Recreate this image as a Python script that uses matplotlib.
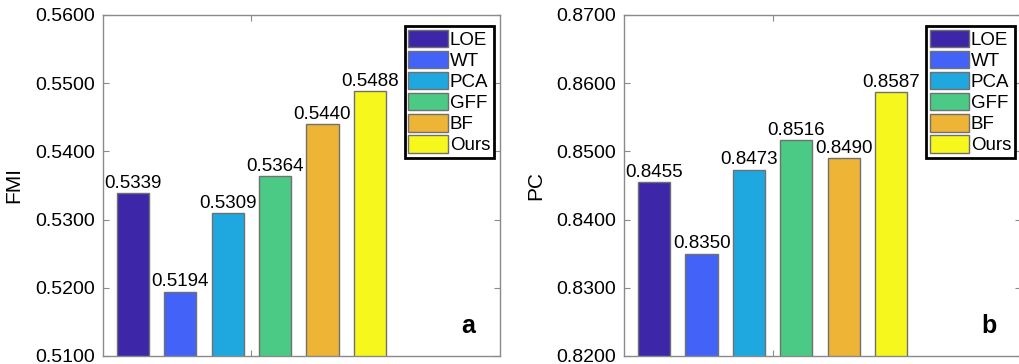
import numpy as np
import matplotlib
matplotlib.use('Agg')
import matplotlib.pyplot as plt

plt.rcParams['font.family'] = ['Liberation Sans', 'DejaVu Sans']

METHODS = ['LOE', 'WT', 'PCA', 'GFF', 'BF', 'Ours']
FMI = [0.5339, 0.5194, 0.5309, 0.5364, 0.5440, 0.5488]
PC = [0.8455, 0.8350, 0.8473, 0.8516, 0.8490, 0.8587]
FMI_TICKS = [0.51, 0.52, 0.53, 0.54, 0.55, 0.56]
PC_TICKS = [0.82, 0.83, 0.84, 0.85, 0.86, 0.87]

# parula-like colours, one per method
COLORS = ['#3d26a8', '#4363f8', '#1fa8df', '#4aca84', '#edb436', '#f6f71c']

fig = plt.figure(figsize=(10.2, 3.64), dpi=100)

def draw_panel(ax, values, ticks, ylabel, tag):
    x = np.arange(1, len(values) + 1)
    bars = ax.bar(x, values, width=0.68, color=COLORS, edgecolor='#707070',
                  linewidth=1.0, zorder=2)
    for xi, v in zip(x, values):
        ax.annotate(f'{v:.4f}', (xi, v), xytext=(0, 1), textcoords='offset points',
                    ha='center', va='bottom', fontsize=13.5)
    ax.set_xlim(0.367, 8.743)
    ax.set_ylim(ticks[0], ticks[-1])
    ax.set_yticks(ticks)
    ax.set_yticklabels([f'{t:.4f}' for t in ticks], fontsize=14)
    ax.set_xticks([3.5])
    ax.set_xticklabels([])
    ax.tick_params(direction='in', length=4, color='#8a8a8a', top=True, right=True,
                   bottom=True, pad=6)
    for s in ax.spines.values():
        s.set_color('#8a8a8a')
        s.set_linewidth(1.0)
    ax.set_ylabel(ylabel, fontsize=15, labelpad=8)
    leg = ax.legend(bars, METHODS, loc='upper right', bbox_to_anchor=(0.985, 0.968),
                    fontsize=13.5, handlelength=2.1, handleheight=1.07,
                    handletextpad=0.1, labelspacing=0.1, borderpad=0.2,
                    borderaxespad=0, fancybox=False, framealpha=1)
    leg.get_frame().set_edgecolor('black')
    leg.get_frame().set_linewidth(2.0)
    ax.text(0.92, 0.068, tag, transform=ax.transAxes, fontsize=18,
            fontweight='bold', ha='center', va='baseline')

ax1 = fig.add_axes([0.101, 0.022, 0.389, 0.937])
ax2 = fig.add_axes([0.612, 0.022, 0.389, 0.937])
draw_panel(ax1, FMI, FMI_TICKS, 'FMI', 'a')
draw_panel(ax2, PC, PC_TICKS, 'PC', 'b')

fig.savefig('out.png', dpi=100)
